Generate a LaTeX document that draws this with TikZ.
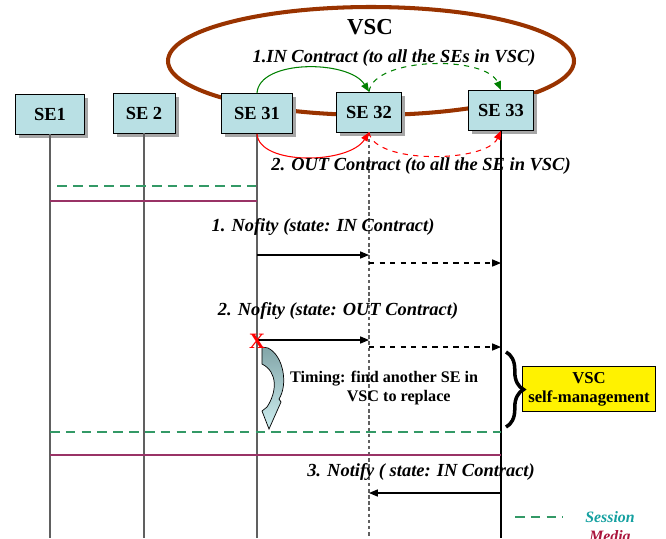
\documentclass[tikz,border=0pt]{standalone}
\usepackage{fontspec}
\setmainfont{Liberation Serif}
\usetikzlibrary{arrows.meta, calc, shadows, decorations.pathreplacing}
\definecolor{boxcyan}{RGB}{185,224,228}
\definecolor{vscbrown}{RGB}{153,51,0}
\definecolor{sessgreen}{RGB}{51,153,102}
\definecolor{mediapurple}{RGB}{153,51,102}
\definecolor{sesstext}{RGB}{20,160,160}
\definecolor{mediatext}{RGB}{170,20,60}
\definecolor{ingreen}{RGB}{0,128,0}
\tikzset{sebox/.style = {draw, fill=boxcyan, minimum width=1.3cm, minimum height=0.8cm, font=\fontsize{10.5}{12}\selectfont\bfseries, drop shadow={shadow xshift=2pt, shadow yshift=-2pt, fill=gray!70, opacity=1}}}
\tikzset{life/.style = {gray!75!black, line width=0.6pt}}
\tikzset{msg/.style = {-{Triangle[length=5pt, width=4pt]}, line width=0.6pt}}
\tikzset{lbl/.style = {font=\fontsize{10.5}{12}\selectfont\bfseries\itshape}}
\tikzset{session/.style = {sessgreen, line width=1.2pt, dash pattern=on 5.5pt off 3.5pt}}
\tikzset{media/.style = {mediapurple, line width=1.2pt}}

\begin{document}
\begin{tikzpicture}[x=0.02cm, y=-0.02cm]
\useasboundingbox (0,0) rectangle (666,538);
\draw[vscbrown, line width=2.3pt] (371,61) ellipse [x radius=203, y radius=54];
\node[font=\fontsize{13}{14}\selectfont\bfseries] (vsc) at (370,27) {VSC};
\node[sebox, minimum width=1.38cm] (se1) at (50,114) {SE1};
\node[sebox, minimum width=1.24cm] (se2) at (144,113) {SE 2};
\node[sebox, minimum width=1.42cm] (se31) at (257,113.5) {SE 31};
\node[sebox] (se32) at (369,112) {SE 32};
\node[sebox] (se33) at (501,110.5) {SE 33};
\coordinate (bot) at (0,538);
\draw[life] (se1.south) -- (se1.south |- bot);
\draw[life] (se2.south) -- (se2.south |- bot);
\draw[life] (se31.south) -- (se31.south |- bot);
\draw[life, dash pattern=on 2pt off 1.5pt] (se32.south) -- (se32.south |- bot);
\draw[black, line width=0.6pt] (se33.south) -- (se33.south |- bot);
\draw[msg, ingreen] (se31.north) .. controls +(2,-34) and +(-20,-32) .. (se32.north);
\draw[msg, ingreen, dashed] (se32.north) .. controls +(5,-35) and +(-15,-35) .. (se33.north);
\draw[msg, red] (se31.south) .. controls +(2,32) and +(-20,32) .. (se32.south);
\draw[msg, red, dashed] (se32.south) .. controls +(5,32) and +(-15,32) .. (se33.south);
\node[lbl] (incontract) at (394,58) {1.IN Contract (to all the SEs in VSC)};
\node[lbl] (outcontract) at (421,166) {2. OUT Contract (to all the SE in VSC)};
\coordinate (s1) at (0,186);
\coordinate (md1) at (0,201);
\draw[session] ([xshift=4pt]se1 |- s1) -- (se31 |- s1);
\draw[media] (se1 |- md1) -- (se31 |- md1);
\coordinate (m1) at (0,255);
\coordinate (m1d) at (0,263);
\node[lbl] (notify1) at (323,227) {1. Nofity (state: IN Contract)};
\draw[msg] (se31 |- m1) -- (se32 |- m1);
\draw[msg, dashed] (se32 |- m1d) -- (se33 |- m1d);
\coordinate (m2) at (0,340);
\coordinate (m2d) at (0,347);
\node[lbl] (notify2) at (338,311) {2. Nofity (state: OUT Contract)};
\draw[msg] (se31 |- m2) -- (se32 |- m2);
\draw[msg, dashed] (se32 |- m2d) -- (se33 |- m2d);
\shade[top color={rgb,255:red,130;green,165;blue,168}, bottom color={rgb,255:red,205;green,238;blue,240}, draw=black, line width=0.4pt] (262,347) -- (268,348) .. controls (284,356) and (288,385) .. (279,399) -- (281,402) -- (269,429) -- (262,411) -- (267,407) .. controls (277,392) and (278,372) .. (262,364) -- cycle;
\node[red, font=\fontsize{12.5}{13}\selectfont\bfseries] (xmark) at (257,341) {X};
\node[font=\fontsize{9.2}{11.3}\selectfont\bfseries, align=left, anchor=west] (timing) at (284,388) {Timing: find another SE in\\\hspace*{3.5em}VSC to replace};
\node[draw, fill=yellow, font=\fontsize{9.5}{10.8}\selectfont\bfseries, align=center, minimum width=2.66cm, minimum height=0.88cm] (selfm) at (589,389) {VSC\\self-management};
\draw[decorate, decoration={brace, amplitude=10pt}, line width=2pt] (506,352) -- (506,427);
\coordinate (s2) at (0,432);
\coordinate (md2) at (0,455);
\draw[session] (se1 |- s2) -- (se33 |- s2);
\draw[media] (se1 |- md2) -- (se33 |- md2);
\coordinate (m3) at (0,493);
\node[lbl] (notify3) at (421,472) {3. Notify ( state: IN Contract)};
\draw[msg] (se33 |- m3) -- (se32 |- m3);
\coordinate (lg) at (515,517);
\draw[session] (lg) -- ++(48,0);
\node[lbl, font=\fontsize{9}{10}\selectfont\bfseries\itshape, text=sesstext] (sess) at (610,517) {Session};
\node[lbl, font=\fontsize{9}{10}\selectfont\bfseries\itshape, text=mediatext] (med) at (610,536) {Media};
\end{tikzpicture}
\end{document}
